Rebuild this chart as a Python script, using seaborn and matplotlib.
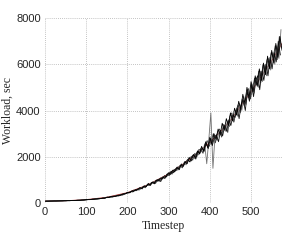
import numpy as np
import pandas as pd
import matplotlib
matplotlib.use("Agg")
import matplotlib.pyplot as plt
import seaborn as sns

# Timesteps and several workload runs
timestep_a = list(range(0, 580, 5))
workload_a = [80, 85, 82, 88, 86, 90, 92, 89, 95, 97,
              100, 104, 102, 108, 112, 110, 118, 122, 128, 132,
              140, 148, 152, 160, 168, 175, 185, 192, 205, 215,
              240, 245, 270, 275, 300, 310, 345, 350, 395, 400,
              450, 455, 510, 505, 580, 570, 650, 640, 730, 700,
              820, 780, 900, 860, 990, 950, 1080, 1040, 1180, 1130,
              1300, 1240, 1420, 1350, 1520, 1470, 1650, 1580, 1800, 1700,
              1950, 1820, 2100, 1960, 2250, 2120, 2450, 2250, 2650, 2400,
              2850, 2550, 3000, 2750, 3200, 2950, 3450, 3150, 3650, 3350,
              3900, 3550, 4100, 3800, 4400, 4050, 4700, 4300, 5000, 4550,
              5250, 4800, 5500, 5050, 5800, 5300, 6050, 5550, 6350, 5800,
              6600, 6050, 6900, 6300, 7200, 6600]

timestep_b = [t + 2.5 for t in range(0, 575, 5)]
workload_b = [84, 80, 87, 84, 90, 88, 94, 93, 96, 101,
              99, 106, 109, 107, 115, 116, 119, 127, 127, 138,
              142, 153, 155, 167, 170, 183, 186, 203, 207, 232,
              235, 262, 262, 292, 295, 330, 333, 375, 378, 430,
              430, 485, 490, 550, 550, 620, 615, 700, 690, 780,
              760, 870, 840, 950, 930, 1050, 1010, 1140, 1100, 1260,
              1200, 1370, 1310, 1480, 1420, 1600, 1540, 1740, 1650, 1880,
              1780, 2040, 1920, 2180, 2080, 2360, 2200, 2560, 1700, 2750,
              3900, 1500, 2900, 2700, 3100, 2900, 3350, 3100, 3550, 3300,
              3800, 3500, 4000, 3750, 4300, 4000, 4600, 4250, 4900, 4500,
              5150, 4750, 5400, 5000, 5700, 5250, 5950, 5500, 6250, 5750,
              6500, 6000, 6800, 6250, 7500]

timestep_c = [t + 1 for t in range(0, 575, 5)]
workload_c = [83, 80, 86, 85, 91, 87, 90, 95, 93, 99,
              98, 106, 104, 111, 109, 117, 121, 119, 131, 136,
              147, 158, 151, 170, 175, 181, 198, 193, 220, 214,
              262, 248, 283, 296, 286, 335, 318, 372, 390, 405,
              470, 440, 525, 560, 530, 620, 665, 610, 745, 720,
              850, 760, 905, 830, 990, 1020, 930, 1130, 1060, 1250,
              1190, 1380, 1310, 1450, 1560, 1440, 1690, 1600, 1760, 1880,
              1780, 2010, 2080, 1900, 2250, 2150, 2380, 2230, 2600, 2350,
              2800, 2480, 2850, 2950, 2650, 3150, 2900, 3350, 3100, 3600,
              3350, 3800, 3700, 4100, 3650, 4250, 4450, 4000, 4800, 4400,
              5100, 4600, 5300, 5500, 4900, 5700, 5300, 6000, 5500, 6300,
              5800, 6500, 6100, 7000, 6400]

timestep_d = [t + 3.5 for t in range(0, 575, 5)]
workload_d = [81, 86, 84, 89, 92, 88, 94, 97, 95, 102,
              103, 100, 110, 112, 108, 120, 118, 128, 126, 141,
              150, 146, 162, 158, 178, 172, 190, 205, 198, 236,
              240, 268, 258, 280, 312, 300, 348, 340, 400, 420,
              445, 495, 480, 545, 590, 560, 640, 700, 660, 790,
              770, 880, 920, 850, 1010, 940, 1110, 1080, 1160, 1290,
              1330, 1250, 1460, 1400, 1540, 1640, 1520, 1780, 1700, 1950,
              1990, 1850, 2150, 2000, 2320, 2280, 2150, 2500, 2700, 2450,
              2700, 3000, 2600, 3050, 3200, 2850, 3400, 3300, 3050, 3750,
              3900, 3500, 4000, 4250, 3900, 4500, 4200, 4700, 4950, 4500,
              4950, 5400, 5100, 5700, 5200, 5950, 5650, 6200, 5900, 6500,
              6300, 6800, 6200, 7200, 6700]

timestep_m = [0, 50, 100, 150, 200, 250, 300, 350, 400, 450, 500, 550, 575]
workload_m = [82, 100, 148, 250, 450, 790, 1260, 1870, 2620, 3560, 4820, 6150, 6900]

xticks = [0, 100, 200, 300, 400, 500]
yticks = [0, 2000, 4000, 6000, 8000]

runs = [
    (timestep_m, workload_m, "#b03030", 0.6),
    (timestep_b, workload_b, "#707070", 0.6),
    (timestep_d, workload_d, "#404040", 0.6),
    (timestep_c, workload_c, "#111111", 0.6),
    (timestep_a, workload_a, "black", 0.6),
]

sns.set_style("white")
fig = plt.figure(figsize=(2.84, 2.40), dpi=100)
ax = fig.add_axes([0.158, 0.154, 0.835, 0.771])

for ts, ws, col, lw in runs:
    df = pd.DataFrame({"t": ts, "w": ws})
    sns.lineplot(data=df, x="t", y="w", ax=ax, color=col, lw=lw)

ax.set_xlim(0, 575)
ax.set_ylim(0, 8000)
ax.set_xticks(xticks)
ax.set_yticks(yticks)
ax.set_xticklabels([str(v) for v in xticks], family="Liberation Sans", fontsize=8)
ax.set_yticklabels([str(v) for v in yticks], family="Liberation Sans", fontsize=8)
ax.tick_params(length=2, pad=1, color="#888888")
ax.grid(True, linestyle=(0, (1, 1.5)), color="#b0b0b0", lw=0.6)
for s in ax.spines.values():
    s.set_visible(False)
ax.set_xlabel("Timestep", family="Liberation Serif", fontsize=8.5, labelpad=2)
ax.set_ylabel("Workload, sec", family="Liberation Serif", fontsize=8.5, labelpad=2)

fig.savefig("out.png", dpi=100)
